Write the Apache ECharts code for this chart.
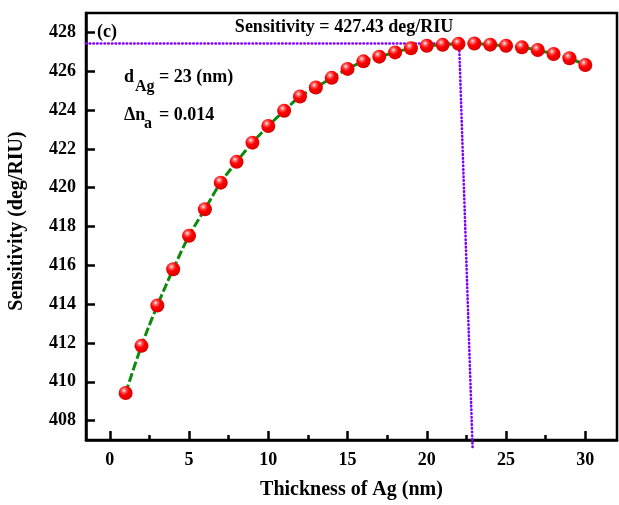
<!DOCTYPE html>
<html>
<head>
<meta charset="utf-8">
<script src="https://cdn.jsdelivr.net/npm/echarts@6/dist/echarts.min.js"></script>
<style>
  html, body { margin: 0; padding: 0; background: #fff; }
  #chart { width: 619px; height: 505px; }
</style>
</head>
<body>
<div id="chart"></div>
<script>
// Ag layer thickness (nm) and the resulting angular sensitivity (deg/RIU)
const thickness = [1, 2, 3, 4, 5, 6, 7, 8, 9, 10, 11, 12, 13, 14, 15,
                   16, 17, 18, 19, 20, 21, 22, 23, 24, 25, 26, 27, 28, 29, 30];
const sensitivity = [409.42, 411.85, 413.93, 415.80, 417.52, 418.89, 420.26, 421.33, 422.32, 423.18,
                     423.96, 424.70, 425.16, 425.66, 426.12, 426.51, 426.75, 426.97, 427.18, 427.31,
                     427.36, 427.41, 427.43, 427.37, 427.31, 427.23, 427.09, 426.89, 426.67, 426.32];

// Peak read-out and its dotted guide lines
const peakSensitivity = 427.43;
const guideHorizontal = [[-1.5, peakSensitivity], [22.04, peakSensitivity]];
const guideVertical = [[22.04, peakSensitivity], [22.89, 406.6]];

// Axis ranges and tick positions
const xRange = [-1.5, 32];
const yRange = [407, 429];
const xTicks = [0, 5, 10, 15, 20, 25, 30];
const xMinorTicks = [2.5, 7.5, 12.5, 17.5, 22.5, 27.5];
const yTicks = [408, 410, 412, 414, 416, 418, 420, 422, 424, 426, 428];

const serif = '"Liberation Serif", "Times New Roman", serif';
const chart = echarts.init(document.getElementById('chart'), null, { renderer: 'canvas' });

const ball = {
  type: 'radial', x: 0.38, y: 0.32, r: 0.75,
  colorStops: [
    { offset: 0, color: '#ffffff' },
    { offset: 0.18, color: '#ff6a6a' },
    { offset: 0.45, color: '#ff0000' },
    { offset: 0.85, color: '#e00000' },
    { offset: 1, color: '#a80000' }
  ]
};

const dotted = { color: '#8000ff', width: 2.6, type: [0.5, 3.2], cap: 'round' };

function txt(x, y, text, size, align) {
  return {
    type: 'text', x: x, y: y, silent: true, z: 20,
    style: {
      text: text, fill: '#000', font: 'bold ' + size + 'px ' + serif,
      align: align || 'left', verticalAlign: 'middle'
    }
  };
}

chart.setOption({
  animation: false,
  backgroundColor: '#fff',
  grid: {
    left: 86, right: 2, top: 13, bottom: 62,
    show: true, borderColor: '#000', borderWidth: 2.5, backgroundColor: 'transparent'
  },
  xAxis: [{
    type: 'value', min: xRange[0], max: xRange[1],
    splitLine: { show: false },
    axisLine: { show: true, onZero: false, lineStyle: { color: '#000', width: 2.5 } },
    axisTick: { show: true, inside: true, length: 9, customValues: xTicks, lineStyle: { color: '#000', width: 2.5 } },
    axisLabel: {
      customValues: xTicks, margin: 11, color: '#000',
      fontFamily: serif, fontWeight: 'bold', fontSize: 18
    },
    name: 'Thickness of Ag (nm)', nameLocation: 'middle', nameGap: 40,
    nameTextStyle: { color: '#000', fontFamily: serif, fontWeight: 'bold', fontSize: 20 }
  }, {
    type: 'value', min: xRange[0], max: xRange[1], position: 'bottom',
    splitLine: { show: false },
    axisLine: { show: false, onZero: false },
    axisTick: { show: true, inside: true, length: 5, customValues: xMinorTicks, lineStyle: { color: '#000', width: 2.5 } },
    axisLabel: { show: false }
  }],
  yAxis: {
    type: 'value', min: yRange[0], max: yRange[1],
    splitLine: { show: false },
    axisLine: { show: true, onZero: false, lineStyle: { color: '#000', width: 2.5 } },
    axisTick: { show: true, inside: true, length: 9, customValues: yTicks, lineStyle: { color: '#000', width: 2.5 } },
    axisLabel: {
      customValues: yTicks, margin: 10, color: '#000',
      fontFamily: serif, fontWeight: 'bold', fontSize: 18
    }
  },
  series: [{
    name: 'guide-h', type: 'line', data: guideHorizontal,
    symbol: 'none', silent: true, z: 3, lineStyle: dotted
  }, {
    name: 'guide-v', type: 'line', data: guideVertical, clip: false,
    symbol: 'none', silent: true, z: 3, lineStyle: dotted
  }, {
    name: 'Sensitivity', type: 'line',
    data: thickness.map((t, i) => [t, sensitivity[i]]),
    smooth: 0.35, z: 5,
    lineStyle: { color: '#0d8a0d', width: 3, type: [9, 3] },
    symbol: 'circle', symbolSize: 14,
    itemStyle: { color: ball, borderWidth: 0 }
  }],
  graphic: [
    txt(97, 32, '(c)', 18),
    txt(344, 27, 'Sensitivity = ' + peakSensitivity.toFixed(2) + ' deg/RIU', 18, 'center'),
    txt(124, 77, 'd', 18),
    txt(135, 87, 'Ag', 16),
    txt(159, 77, '= 23 (nm)', 18),
    txt(124, 115, '\u0394n', 18),
    txt(144, 124, 'a', 16),
    txt(159, 115, '= 0.014', 18),
    {
      type: 'text', x: 17, y: 221, rotation: Math.PI / 2, silent: true, z: 20,
      style: {
        text: 'Sensitivity (deg/RIU)', fill: '#000', font: 'bold 20px ' + serif,
        align: 'center', verticalAlign: 'middle'
      }
    }
  ]
});
</script>
</body>
</html>
